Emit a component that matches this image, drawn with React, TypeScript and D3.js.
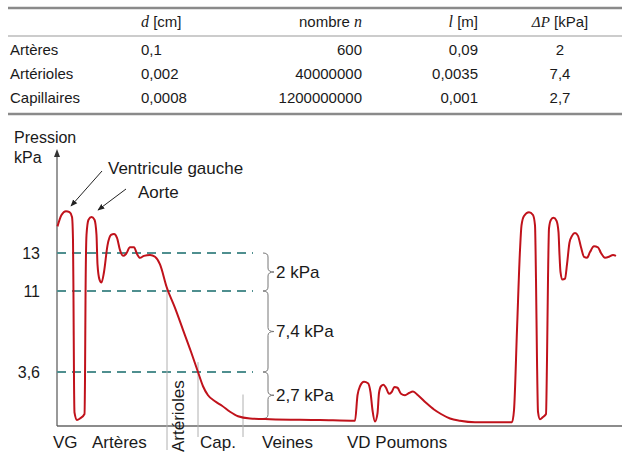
import React from 'react';
import * as d3 from 'd3';

// table
const tableRows = ['Artères', 'Artérioles', 'Capillaires'];
const diameters = ['0,1', '0,002', '0,0008'];
const counts = ['600', '40000000', '1200000000'];
const lengths = ['0,09', '0,0035', '0,001'];
const pressureDrops = ['2', '7,4', '2,7'];

// pressure levels marked on the y axis
const levels = [13, 11, 3.6];
const levelLabels = ['13', '11', '3,6'];
const dropLabels = ['2 kPa', '7,4 kPa', '2,7 kPa'];
const veinPressure = 0.5;

// pressure curve along the circulation (position, kPa)
const positions = [
  0.25, 2.25, 4.5, 6.25, 7.5, 8, 8.25, 8.5, 8.75, 10, 11.5, 13.75, 14, 14.25, 14.75, 15.75, 17.25, 18.75,
  19.75, 20.25, 21.25, 22.25, 23.5, 25.25, 27, 28.5, 30, 31.5, 33, 34.5, 36.5, 38.5, 40, 41.5, 43.5, 46.5,
  49, 51.5, 54.85, 59, 63, 67, 70.5, 73, 75.5, 79, 82.5, 86.5, 90.5, 96.5, 106.5, 131.5, 149,
  150.25, 151.5, 153.5, 155.5, 156.75, 157.75, 159, 160.25, 161, 162, 163.25, 164.5, 166, 167.25, 168.75,
  170.25, 172, 174, 176, 178, 180.5, 184.5, 188.5, 192, 196.5, 201.5, 209, 227.5,
  228.5, 230, 231.5, 232.25, 233.5, 236, 238, 239, 239.5, 240, 240.5, 241.5, 243, 244.5, 245, 245.5, 246,
  247, 248.25, 249.75, 250.75, 251.25, 251.75, 252.75, 254, 255, 256.25, 257.5, 259, 260.5, 262, 263.5,
  265, 266.5, 268.5, 270.5, 272, 274, 276, 278, 279.5,
];
const pressures = [
  14.4, 15.0, 15.2, 15.15, 14.9, 13.7, 10.2, 3.1, 0.9, 0.4, 0.5, 0.8, 3.1, 10.2, 13.95, 14.75, 14.9, 14.75,
  13.95, 12.4, 11.6, 11.45, 12.0, 13.4, 13.95, 14.0, 13.8, 13.15, 12.85, 12.95, 13.3, 13.3, 12.95, 12.75, 12.85, 12.9,
  12.8, 12.4, 11.2, 9.45, 7.45, 5.45, 3.6, 2.65, 2.05, 1.65, 1.35, 0.95, 0.65, 0.5, 0.45, 0.4, 0.35,
  2.05, 2.65, 2.95, 2.85, 2.25, 1.05, 0.3, 0.85, 2.2, 2.65, 2.75, 2.55, 2.15, 2.25, 2.6,
  2.55, 2.15, 2.05, 2.2, 2.3, 2.05, 1.55, 1.1, 0.8, 0.5, 0.35, 0.25, 0.25,
  1.05, 7.45, 13.15, 14.45, 14.95, 15.15, 15.0, 14.45, 11.6, 4.7, 0.95, 0.45, 0.6, 0.8, 4.7, 11.6, 14.3,
  14.75, 14.85, 14.7, 14.1, 12.9, 12.0, 11.6, 11.65, 12.4, 13.55, 13.9, 14.05, 13.9, 13.3, 12.8,
  12.75, 13.05, 13.35, 13.3, 13.0, 12.75, 12.8, 12.9, 12.85,
];

// segments along the x axis
const regionLabels = ['VG', 'Artères', 'Cap.', 'Veines', 'VD Poumons'];
const regionPos = [-2, 17.5, 71.5, 102.5, 145];
const arteriolePos = 63.5;
const separatorPos = [55, 70.5, 93];
const separatorTop = [11.2, 4.5, 2.1];

const sans = '"Liberation Sans", Arial, Helvetica, sans-serif';
const serif = '"Liberation Serif", "Times New Roman", serif';

function brace(bx: number, y0: number, y1: number) {
  const xm = bx + 5;
  const tip = bx + 11;
  const ym = (y0 + y1) / 2;
  const r = 4;
  return `M${bx},${y0} Q${xm},${y0} ${xm},${y0 + r} L${xm},${ym - r} Q${xm},${ym} ${tip},${ym}` +
    ` Q${xm},${ym} ${xm},${ym + r} L${xm},${y1 - r} Q${xm},${y1} ${bx},${y1}`;
}

export default function App() {
  const width = 630;
  const height = 456;

  const x = d3.scaleLinear().domain([0, 280]).range([57, 617]);
  // the figure is schematic: each pressure band has its own scale
  const y = d3.scaleLinear().domain([0, 3.6, 11, 13, 16]).range([426, 372, 291, 253, 196]);

  const line = d3.line<number>()
    .x((_, i) => x(positions[i]))
    .y(d => y(d))
    .curve(d3.curveMonotoneX);

  const axisY = y(0);
  const axisX = x(0);
  const braceX = x(103);

  const bands = [
    [levels[0], levels[1]],
    [levels[1], levels[2]],
    [levels[2], veinPressure],
  ];

  // table columns
  const colLabel = 10;
  const colD = 141;
  const colN = 362;
  const colL = 478;
  const colP = 560;
  const rowY = (i: number) => 55 + i * 24;

  return (
    <svg width={width} height={height} style={{ position: 'absolute', left: 0, top: 0, background: '#fff' }}
      fontFamily={sans}>
      <defs>
        <marker id="arr" viewBox="0 0 10 10" refX="9" refY="5" markerWidth="7" markerHeight="7" orient="auto">
          <path d="M0,1 L10,5 L0,9 z" fill="#222" />
        </marker>
      </defs>

      {/* table */}
      <line x1={8} x2={622} y1={8} y2={8} stroke="#8a8a8a" strokeWidth={2.5} />
      <line x1={8} x2={622} y1={36} y2={36} stroke="#9a9a9a" strokeWidth={1.2} />
      <line x1={8} x2={622} y1={114} y2={114} stroke="#8a8a8a" strokeWidth={2.5} />
      <g fontSize={15} fill="#1a1a1a">
        <text x={colD} y={27}>
          <tspan fontFamily={serif} fontStyle="italic" fontSize={16}>d</tspan> [cm]
        </text>
        <text x={colN} y={27} textAnchor="end">
          nombre <tspan fontFamily={serif} fontStyle="italic" fontSize={16}>n</tspan>
        </text>
        <text x={colL} y={27} textAnchor="end">
          <tspan fontFamily={serif} fontStyle="italic" fontSize={16}>l</tspan> [m]
        </text>
        <text x={colP} y={27} textAnchor="middle">
          <tspan fontFamily={serif} fontStyle="italic" fontSize={15}>ΔP</tspan>  [kPa]
        </text>
        {tableRows.map((r, i) => (
          <g key={r}>
            <text x={colLabel} y={rowY(i)}>{r}</text>
            <text x={colD} y={rowY(i)}>{diameters[i]}</text>
            <text x={colN} y={rowY(i)} textAnchor="end">{counts[i]}</text>
            <text x={colL} y={rowY(i)} textAnchor="end">{lengths[i]}</text>
            <text x={colP} y={rowY(i)} textAnchor="middle">{pressureDrops[i]}</text>
          </g>
        ))}
      </g>

      {/* axes */}
      <line x1={axisX} x2={622} y1={axisY} y2={axisY} stroke="#666" strokeWidth={1.5} />
      <line x1={axisX} x2={axisX} y1={axisY} y2={156} stroke="#555" strokeWidth={1.2} />
      <path d={`M${axisX - 3},${157} L${axisX},${149} L${axisX + 3},${157} z`} fill="#333" />
      <g fontSize={16} fill="#1a1a1a">
        <text x={14} y={143}>Pression</text>
        <text x={14} y={163}>kPa</text>
      </g>

      {/* level lines */}
      {levels.map((v, i) => (
        <g key={v}>
          <line x1={axisX} x2={253} y1={y(v)} y2={y(v)} stroke="#4f8f8f" strokeWidth={1.8}
            strokeDasharray="9,6" />
          <text x={40} y={y(v)} dy="0.35em" textAnchor="end" fontSize={16} fill="#1a1a1a">
            {levelLabels[i]}
          </text>
        </g>
      ))}

      {/* separators between segments */}
      {separatorPos.map((p, i) => (
        <line key={p} x1={x(p)} x2={x(p)} y1={y(separatorTop[i])} y2={axisY + (i === 0 ? 24 : 11)}
          stroke="#b0b0b0" strokeWidth={1} />
      ))}

      {/* braces */}
      {bands.map(([a, b], i) => (
        <g key={i}>
          <path d={brace(braceX, y(a), y(b))} fill="none" stroke="#777" strokeWidth={1} />
          <text x={braceX + 13} y={(y(a) + y(b)) / 2} dy="0.35em" fontSize={17} fill="#1a1a1a">
            {dropLabels[i]}
          </text>
        </g>
      ))}

      {/* pressure curve */}
      <path d={line(pressures) ?? ''} fill="none" stroke="#c0121b" strokeWidth={2}
        strokeLinejoin="round" />

      {/* annotations */}
      <g fontSize={17} fill="#1a1a1a">
        <text x={108} y={174}>Ventricule gauche</text>
        <text x={138} y={198}>Aorte</text>
      </g>
      <line x1={102} y1={171} x2={71} y2={206} stroke="#222" strokeWidth={1} markerEnd="url(#arr)" />
      <line x1={126} y1={189} x2={98} y2={210} stroke="#222" strokeWidth={1} markerEnd="url(#arr)" />

      {/* x labels */}
      <g fontSize={17} fill="#1a1a1a">
        {regionLabels.map((l, i) => (
          <text key={l} x={x(regionPos[i])} y={448}>{l}</text>
        ))}
        <text transform={`translate(${x(arteriolePos)},${452}) rotate(-90)`}>Artérioles</text>
      </g>
    </svg>
  );
}
